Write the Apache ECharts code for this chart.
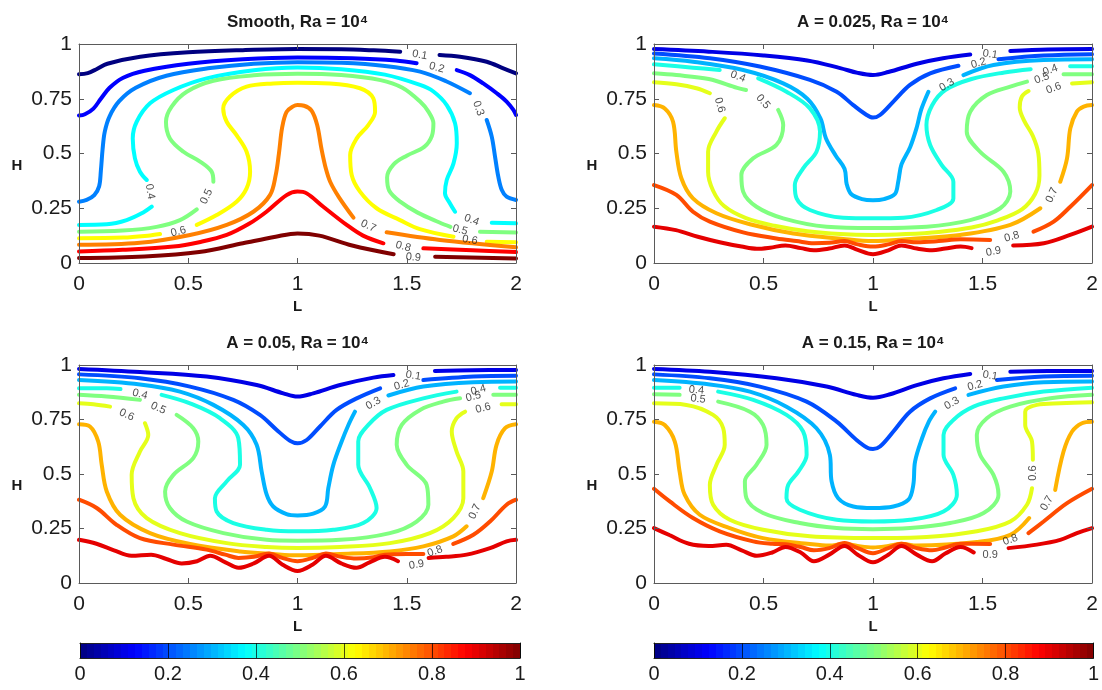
<!DOCTYPE html>
<html>
<head>
<meta charset="utf-8">
<script src="https://cdn.jsdelivr.net/npm/echarts@6/dist/echarts.min.js"></script>
<style>
html, body { margin: 0; padding: 0; background: #fff; }
#chart { width: 1102px; height: 690px; }
</style>
</head>
<body>
<div id="chart"></div>
<script>
// contour levels, same for every panel
const levels = [0.1, 0.2, 0.3, 0.4, 0.5, 0.6, 0.7, 0.8, 0.9];
const xTicks = [0, 0.5, 1, 1.5, 2];
const yTicks = [0, 0.25, 0.5, 0.75, 1];
const cbarTicks = [0, 0.2, 0.4, 0.6, 0.8, 1];

// each contour: list of [L, H] points, null = gap where the inline label sits
const smoothLines = [
  [[0,0.862],[0.04,0.867],[0.08,0.885],[0.13,0.91],[0.28,0.942],[0.5,0.962],[0.75,0.972],[1,0.977],[1.2,0.976],[1.35,0.971],[1.47,0.965],null,[1.65,0.95],[1.744,0.942],[1.866,0.919],[1.942,0.889],[2,0.866]],
  [[0,0.673],[0.027,0.679],[0.066,0.705],[0.1,0.75],[0.14,0.8],[0.2,0.845],[0.3,0.878],[0.5,0.91],[0.75,0.93],[1,0.938],[1.25,0.935],[1.45,0.925],[1.545,0.912],null,[1.729,0.881],[1.789,0.858],[1.85,0.82],[1.912,0.775],[1.957,0.737],[1.988,0.699],[2,0.676]],
  [[0,0.28],[0.035,0.288],[0.07,0.31],[0.092,0.35],[0.1,0.42],[0.108,0.52],[0.118,0.6],[0.14,0.67],[0.185,0.74],[0.26,0.8],[0.4,0.855],[0.6,0.89],[0.8,0.91],[1,0.917],[1.2,0.914],[1.4,0.9],[1.561,0.874],[1.68,0.83],[1.789,0.775],null,[1.866,0.653],[1.889,0.577],[1.904,0.486],[1.919,0.394],[1.935,0.333],[1.957,0.303],[2,0.288]],
  [[0,0.174],[0.127,0.177],[0.218,0.196],[0.294,0.231],[0.333,0.257],null,[0.31,0.379],[0.279,0.417],[0.256,0.478],[0.246,0.569],[0.264,0.645],[0.325,0.729],[0.432,0.79],[0.584,0.843],[0.8,0.88],[1,0.893],[1.2,0.885],[1.4,0.86],[1.561,0.813],[1.622,0.783],[1.683,0.721],[1.721,0.638],[1.729,0.547],[1.714,0.455],[1.683,0.379],[1.675,0.318],[1.698,0.272],[1.721,0.234],null,[1.889,0.184],[2,0.181]],
  [[0,0.143],[0.2,0.148],[0.355,0.165],[0.462,0.196],[0.539,0.245],null,[0.615,0.371],[0.607,0.417],[0.554,0.463],[0.478,0.508],[0.416,0.569],[0.398,0.645],[0.424,0.714],[0.493,0.782],[0.615,0.832],[0.8,0.857],[1,0.864],[1.2,0.858],[1.38,0.835],[1.48,0.8],[1.561,0.737],[1.6,0.69],[1.622,0.638],[1.615,0.58],[1.58,0.53],[1.5,0.49],[1.44,0.45],[1.41,0.39],[1.42,0.33],[1.47,0.28],[1.55,0.23],[1.65,0.185],[1.7,0.165],null,[1.835,0.143],[2,0.139]],
  [[0,0.113],[0.203,0.116],[0.325,0.126],[0.371,0.132],null,[0.539,0.174],[0.63,0.219],[0.721,0.28],[0.767,0.341],[0.783,0.417],[0.767,0.508],[0.721,0.584],[0.676,0.645],[0.66,0.706],[0.691,0.76],[0.767,0.805],[0.889,0.82],[1,0.823],[1.149,0.82],[1.286,0.798],[1.347,0.752],[1.355,0.691],[1.324,0.63],[1.271,0.569],[1.241,0.493],[1.248,0.402],[1.286,0.326],[1.362,0.25],[1.469,0.196],[1.56,0.155],[1.714,0.12],null,[1.866,0.097],[2,0.095]],
  [[0,0.083],[0.279,0.092],[0.508,0.128],[0.676,0.174],[0.798,0.234],[0.874,0.31],[0.9,0.4],[0.915,0.5],[0.93,0.62],[0.95,0.69],[0.98,0.715],[1,0.721],[1.03,0.718],[1.065,0.695],[1.09,0.63],[1.11,0.52],[1.13,0.43],[1.15,0.37],[1.19,0.3],[1.256,0.207],null,[1.408,0.14],[1.652,0.105],[2,0.072]],
  [[0,0.053],[0.2,0.06],[0.432,0.075],[0.55,0.095],[0.676,0.128],[0.78,0.18],[0.858,0.234],[0.95,0.31],[1,0.326],[1.042,0.318],[1.118,0.257],[1.225,0.174],[1.3,0.125],[1.393,0.09],null,[1.576,0.067],[1.8,0.058],[2,0.05]],
  [[0,0.023],[0.3,0.03],[0.55,0.05],[0.75,0.09],[0.9,0.12],[1,0.135],[1.1,0.125],[1.25,0.08],[1.44,0.04],null,[1.63,0.029],[2,0.021]]
];
// [L, H, level, text angle]
const smoothLabels = [
  [1.56,0.95,0.1,-10],[1.637,0.892,0.2,-15],[1.828,0.706,0.3,-70],[0.325,0.326,0.4,-80],[1.797,0.196,0.4,-20],
  [0.584,0.303,0.5,65],[1.744,0.151,0.5,-15],[0.455,0.143,0.6,15],[1.789,0.105,0.6,-10],
  [1.324,0.169,0.7,-25],[1.484,0.075,0.8,-15],[1.53,0.026,0.9,-5]
];

const a025Lines = [
  [[0,0.977],[0.25,0.965],[0.5,0.948],[0.7,0.925],[0.85,0.89],[0.93,0.868],[1,0.858],[1.07,0.872],[1.2,0.91],[1.32,0.935],[1.444,0.952],null,[1.627,0.968],[1.8,0.975],[2,0.977]],
  [[0,0.957],[0.255,0.935],[0.483,0.897],[0.712,0.836],[0.834,0.782],[0.91,0.721],[0.971,0.676],[1,0.664],[1.032,0.676],[1.093,0.737],[1.169,0.813],[1.261,0.866],[1.39,0.901],null,[1.573,0.93],[1.779,0.947],[2,0.953]],
  [[0,0.935],[0.178,0.919],[0.407,0.881],[0.59,0.82],[0.7,0.75],[0.76,0.66],[0.785,0.57],[0.83,0.49],[0.87,0.43],[0.88,0.36],[0.9,0.315],[0.95,0.292],[1,0.287],[1.05,0.292],[1.1,0.315],[1.115,0.37],[1.13,0.45],[1.17,0.53],[1.2,0.62],[1.22,0.7],[1.253,0.782],null,[1.413,0.858],[1.55,0.904],[1.779,0.927],[2,0.93]],
  [[0,0.907],[0.178,0.892],[0.3,0.881],null,[0.476,0.843],[0.605,0.782],[0.712,0.706],[0.758,0.6],[0.742,0.508],[0.681,0.432],[0.643,0.356],[0.651,0.295],[0.712,0.242],[0.864,0.207],[1,0.204],[1.139,0.207],[1.291,0.242],[1.367,0.295],[1.367,0.371],[1.314,0.447],[1.261,0.539],[1.244,0.63],[1.27,0.72],[1.33,0.79],[1.45,0.84],[1.6,0.87],[1.72,0.885],null,[1.9,0.898],[2,0.898]],
  [[0,0.866],[0.102,0.858],[0.25,0.84],[0.38,0.8],[0.42,0.79],null,[0.567,0.699],[0.59,0.63],[0.559,0.539],[0.453,0.478],[0.399,0.402],[0.407,0.326],[0.468,0.257],[0.59,0.204],[0.788,0.166],[1,0.16],[1.245,0.166],[1.444,0.196],[1.581,0.25],[1.627,0.326],[1.596,0.417],[1.489,0.508],[1.428,0.6],[1.444,0.691],[1.52,0.767],[1.627,0.805],[1.703,0.828],null,[1.87,0.862],[2,0.862]],
  [[0,0.825],[0.102,0.816],[0.194,0.798],[0.255,0.775],null,[0.323,0.661],[0.285,0.6],[0.247,0.508],[0.247,0.417],[0.27,0.33],[0.32,0.26],[0.42,0.205],[0.55,0.17],[0.7,0.145],[0.85,0.132],[1,0.128],[1.15,0.132],[1.3,0.142],[1.45,0.162],[1.57,0.195],[1.68,0.245],[1.74,0.315],[1.76,0.4],[1.755,0.5],[1.73,0.58],[1.69,0.65],[1.67,0.71],[1.68,0.76],[1.71,0.785],null,[1.909,0.82],[2,0.825]],
  [[0,0.721],[0.049,0.706],[0.087,0.645],[0.102,0.508],[0.125,0.387],[0.178,0.295],[0.285,0.227],[0.438,0.177],[0.636,0.135],[0.864,0.11],[1,0.1],[1.169,0.11],[1.398,0.128],[1.627,0.174],[1.764,0.25],null,[1.855,0.371],[1.886,0.478],[1.901,0.615],[1.931,0.691],[1.962,0.714],[2,0.721]],
  [[0,0.356],[0.102,0.311],[0.178,0.234],[0.255,0.189],[0.407,0.14],[0.559,0.112],[0.65,0.1],[0.73,0.09],[0.8,0.092],[0.87,0.1],[0.93,0.085],[1,0.075],[1.07,0.085],[1.13,0.1],[1.2,0.095],[1.3,0.1],[1.4,0.108],[1.535,0.105],null,[1.733,0.143],[1.825,0.189],[1.901,0.257],[2,0.356]],
  [[0,0.166],[0.1,0.15],[0.2,0.12],[0.3,0.095],[0.4,0.075],[0.47,0.065],[0.53,0.07],[0.6,0.08],[0.67,0.068],[0.73,0.058],[0.8,0.066],[0.87,0.08],[0.93,0.06],[1,0.04],[1.07,0.058],[1.13,0.08],[1.2,0.066],[1.27,0.058],[1.33,0.066],[1.4,0.075],[1.45,0.068],null,[1.64,0.08],[1.78,0.09],[1.9,0.128],[2,0.166]]
];
const a025Labels = [
  [1.535,0.953,0.1,-8],[1.482,0.912,0.2,15],[1.337,0.813,0.3,30],[0.384,0.851,0.4,-20],[1.81,0.881,0.4,20],
  [0.498,0.737,0.5,-50],[1.771,0.843,0.5,20],[0.3,0.721,0.6,-75],[1.825,0.798,0.6,20],
  [1.817,0.31,0.7,65],[1.634,0.12,0.8,15],[1.55,0.052,0.9,10]
];

const a05Lines = [
  [[0,0.982],[0.279,0.968],[0.584,0.947],[0.813,0.908],[0.935,0.87],[1,0.855],[1.072,0.87],[1.195,0.908],[1.347,0.942],[1.439,0.954],null,[1.629,0.973],[1.8,0.976],[2,0.977]],
  [[0,0.957],[0.279,0.939],[0.508,0.901],[0.706,0.84],[0.828,0.771],[0.905,0.702],[0.966,0.652],[1,0.641],[1.042,0.656],[1.103,0.718],[1.179,0.794],[1.271,0.847],[1.378,0.893],null,[1.576,0.931],[1.805,0.947],[2,0.951]],
  [[0,0.931],[0.279,0.911],[0.462,0.878],[0.615,0.817],[0.752,0.725],[0.813,0.634],[0.836,0.511],[0.859,0.405],[0.889,0.351],[0.95,0.316],[1,0.31],[1.072,0.318],[1.126,0.351],[1.141,0.435],[1.164,0.542],[1.202,0.649],[1.233,0.725],[1.263,0.786],null,[1.416,0.86],[1.576,0.901],[1.805,0.921],[2,0.924]],
  [[0,0.893],[0.127,0.893],[0.19,0.89],null,[0.378,0.863],[0.508,0.824],[0.645,0.756],[0.729,0.664],[0.737,0.542],[0.676,0.466],[0.622,0.389],[0.63,0.328],[0.706,0.275],[0.859,0.244],[1,0.237],[1.164,0.244],[1.301,0.275],[1.362,0.344],[1.332,0.435],[1.278,0.542],[1.278,0.649],[1.324,0.725],[1.408,0.794],[1.576,0.847],[1.728,0.878],null,[1.927,0.896],[2,0.896]],
  [[0,0.863],[0.127,0.855],[0.279,0.84],null,[0.447,0.771],[0.523,0.71],[0.546,0.649],[0.523,0.573],[0.432,0.496],[0.394,0.42],[0.416,0.344],[0.493,0.282],[0.661,0.229],[0.859,0.198],[1,0.194],[1.195,0.198],[1.423,0.229],[1.545,0.282],[1.599,0.359],[1.591,0.45],[1.5,0.542],[1.454,0.634],[1.477,0.725],[1.561,0.794],[1.667,0.832],[1.744,0.847],null,[1.896,0.863],[2,0.863]],
  [[0,0.824],[0.066,0.82],[0.142,0.809],null,[0.302,0.733],[0.317,0.679],[0.279,0.603],[0.241,0.496],[0.249,0.389],[0.31,0.298],[0.462,0.229],[0.676,0.183],[0.859,0.165],[1,0.16],[1.195,0.165],[1.423,0.183],[1.606,0.229],[1.713,0.298],[1.759,0.389],[1.759,0.511],[1.728,0.603],[1.706,0.695],[1.728,0.756],[1.767,0.786],null,[1.934,0.82],[2,0.82]],
  [[0,0.728],[0.05,0.718],[0.088,0.649],[0.104,0.542],[0.127,0.42],[0.188,0.313],[0.325,0.229],[0.508,0.179],[0.737,0.145],[0.889,0.133],[1,0.127],[1.195,0.133],[1.423,0.145],[1.576,0.168],[1.713,0.214],[1.774,0.26],null,[1.85,0.389],[1.889,0.511],[1.911,0.634],[1.95,0.71],[2,0.728]],
  [[0,0.382],[0.081,0.344],[0.172,0.267],[0.279,0.206],[0.432,0.176],[0.584,0.153],[0.67,0.13],[0.73,0.115],[0.8,0.12],[0.87,0.135],[0.93,0.115],[1,0.1],[1.07,0.115],[1.13,0.135],[1.2,0.12],[1.27,0.112],[1.347,0.118],[1.4,0.13],[1.5,0.133],[1.576,0.133],null,[1.713,0.179],[1.805,0.221],[1.881,0.282],[1.957,0.359],[2,0.382]],
  [[0,0.198],[0.08,0.18],[0.16,0.15],[0.24,0.125],[0.33,0.13],[0.4,0.11],[0.47,0.09],[0.54,0.1],[0.6,0.125],[0.67,0.095],[0.73,0.07],[0.8,0.09],[0.87,0.125],[0.93,0.085],[1,0.055],[1.07,0.085],[1.13,0.125],[1.2,0.09],[1.27,0.07],[1.33,0.095],[1.4,0.12],[1.46,0.1],null,[1.6,0.115],[1.68,0.12],[1.774,0.13],[1.881,0.16],[1.957,0.191],[2,0.198]]
];
const a05Labels = [
  [1.53,0.951,0.1,-8],[1.477,0.908,0.2,15],[1.347,0.824,0.3,30],[0.279,0.866,0.4,-15],[1.828,0.885,0.4,15],
  [0.363,0.802,0.5,-25],[1.805,0.855,0.5,15],[0.218,0.771,0.6,-25],[1.85,0.802,0.6,15],
  [1.812,0.328,0.7,65],[1.629,0.145,0.8,20],[1.545,0.084,0.9,10]
];

const a15Lines = [
  [[0,0.982],[0.255,0.969],[0.559,0.939],[0.788,0.901],[0.925,0.863],[1,0.85],[1.078,0.866],[1.2,0.908],[1.322,0.939],[1.444,0.959],null,[1.627,0.969],[1.8,0.973],[2,0.973]],
  [[0,0.957],[0.255,0.939],[0.483,0.901],[0.697,0.832],[0.834,0.74],[0.925,0.656],[0.979,0.618],[1,0.615],[1.032,0.626],[1.093,0.695],[1.169,0.786],[1.261,0.847],[1.375,0.893],null,[1.566,0.931],[1.779,0.947],[2,0.951]],
  [[0,0.931],[0.255,0.911],[0.438,0.878],[0.605,0.809],[0.742,0.71],[0.803,0.588],[0.811,0.466],[0.841,0.389],[0.91,0.351],[1,0.344],[1.093,0.351],[1.162,0.382],[1.184,0.45],[1.192,0.557],[1.224,0.664],[1.255,0.74],[1.284,0.786],null,[1.436,0.863],[1.596,0.901],[1.779,0.921],[2,0.924]],
  [[0,0.896],[0.117,0.896],null,[0.293,0.878],[0.453,0.84],[0.605,0.771],[0.681,0.695],[0.697,0.588],[0.659,0.511],[0.613,0.45],[0.605,0.389],[0.666,0.336],[0.834,0.29],[1,0.282],[1.169,0.29],[1.322,0.328],[1.383,0.405],[1.367,0.496],[1.322,0.588],[1.322,0.679],[1.367,0.748],[1.459,0.809],[1.596,0.847],[1.779,0.878],[2,0.896]],
  [[0,0.866],[0.117,0.863],null,[0.293,0.832],[0.438,0.786],[0.498,0.725],[0.514,0.634],[0.468,0.542],[0.415,0.466],[0.422,0.389],[0.498,0.321],[0.666,0.275],[0.834,0.252],[1,0.247],[1.169,0.252],[1.352,0.275],[1.505,0.321],[1.573,0.405],[1.55,0.496],[1.489,0.588],[1.474,0.679],[1.52,0.756],[1.627,0.809],[1.81,0.847],[2,0.863]],
  [[0,0.824],[0.148,0.817],[0.27,0.771],[0.316,0.71],[0.323,0.634],[0.285,0.542],[0.255,0.45],[0.27,0.359],[0.346,0.29],[0.498,0.244],[0.712,0.214],[1,0.206],[1.245,0.211],[1.474,0.237],[1.627,0.282],[1.703,0.359],[1.726,0.435],null,[1.73,0.565],[1.726,0.649],[1.695,0.725],[1.695,0.786],[1.748,0.817],[1.855,0.824],[2,0.829]],
  [[0,0.74],[0.049,0.725],[0.095,0.649],[0.117,0.511],[0.14,0.405],[0.209,0.313],[0.346,0.252],[0.498,0.206],[0.712,0.179],[0.8,0.172],[0.87,0.18],[0.93,0.17],[1,0.163],[1.07,0.17],[1.13,0.18],[1.2,0.172],[1.474,0.188],[1.627,0.221],[1.713,0.298],null,[1.832,0.427],[1.87,0.603],[1.909,0.695],[1.954,0.733],[2,0.74]],
  [[0,0.432],[0.072,0.374],[0.178,0.298],[0.3,0.237],[0.453,0.191],[0.54,0.18],[0.6,0.178],[0.67,0.165],[0.73,0.15],[0.8,0.16],[0.87,0.183],[0.93,0.16],[1,0.137],[1.07,0.16],[1.13,0.18],[1.2,0.16],[1.27,0.15],[1.33,0.163],[1.4,0.18],[1.535,0.179],null,[1.71,0.229],[1.779,0.282],[1.886,0.366],[2,0.432]],
  [[0,0.252],[0.07,0.22],[0.16,0.18],[0.25,0.17],[0.33,0.175],[0.4,0.15],[0.47,0.125],[0.54,0.14],[0.6,0.165],[0.67,0.14],[0.73,0.1],[0.8,0.13],[0.87,0.17],[0.93,0.13],[1,0.095],[1.07,0.13],[1.13,0.17],[1.2,0.13],[1.27,0.1],[1.33,0.135],[1.4,0.165],[1.46,0.14],null,[1.619,0.16],[1.748,0.176],[1.855,0.198],[1.931,0.229],[2,0.252]]
];
const a15Labels = [
  [1.535,0.951,0.1,-8],[1.466,0.905,0.2,15],[1.36,0.824,0.3,30],[0.194,0.885,0.4,-5],[0.201,0.844,0.5,-5],
  [1.73,0.504,0.6,90],[1.794,0.366,0.7,60],[1.627,0.198,0.8,20],[1.535,0.127,0.9,0]
];

const titles = ['Smooth, Ra = 10\u2074', 'A = 0.025, Ra = 10\u2074', 'A = 0.05, Ra = 10\u2074', 'A = 0.15, Ra = 10\u2074'];
const panelLines = [smoothLines, a025Lines, a05Lines, a15Lines];
const panelLabels = [smoothLabels, a025Labels, a05Labels, a15Labels];
// colour range used by each panel's contour colouring
const colorRanges = [[0.1, 0.9], [0, 1], [0, 1], [0, 1]];
const cbarSteps = 64;

const FONT = '"Liberation Sans", Arial, sans-serif';
const FRAME = '#5a5a5a';

function jet(t) {
  const c = v => Math.round(255 * Math.max(0, Math.min(1, 1.5 - Math.abs(v))));
  return 'rgb(' + c(4 * t - 3) + ',' + c(4 * t - 2) + ',' + c(4 * t - 1) + ')';
}

const boxes = [
  { left: 79, top: 44, width: 437, height: 219 },
  { left: 654, top: 44, width: 438, height: 219 },
  { left: 79, top: 365, width: 437, height: 218 },
  { left: 654, top: 365, width: 438, height: 218 }
];
const cbarBoxes = [
  { left: 80, top: 643, width: 440, height: 15 },
  { left: 654, top: 643, width: 441, height: 15 }
];

const option = {
  animation: false,
  backgroundColor: '#ffffff',
  title: [], grid: [], xAxis: [], yAxis: [], series: [], graphic: []
};

function frameAxis(kind, gi, pos, showLabel, ticks) {
  return {
    gridIndex: gi, type: 'value', position: pos, z: 5,
    min: ticks[0], max: ticks[ticks.length - 1], interval: ticks[1] - ticks[0],
    axisLine: { show: true, onZero: false, lineStyle: { color: FRAME, width: 1 } },
    axisTick: { show: true, inside: true, length: 5, lineStyle: { color: FRAME } },
    axisLabel: { show: showLabel, fontSize: 21, color: '#1a1a1a', fontFamily: FONT, margin: kind === 'x' ? 11 : 7 },
    splitLine: { show: false }
  };
}

boxes.forEach((b, i) => {
  option.grid.push(Object.assign({ show: false }, b));
  option.xAxis.push(frameAxis('x', i, 'bottom', true, xTicks));
  option.xAxis.push(frameAxis('x', i, 'top', false, xTicks));
  option.yAxis.push(frameAxis('y', i, 'left', true, yTicks));
  option.yAxis.push(frameAxis('y', i, 'right', false, yTicks));

  option.title.push({
    text: titles[i], left: b.left + b.width / 2, top: b.top - 30, textAlign: 'center', padding: 0,
    textStyle: { fontSize: 17, fontWeight: 'bold', color: '#1a1a1a', fontFamily: FONT }
  });
  option.graphic.push({
    type: 'text', x: b.left - 62, y: b.top + b.height / 2 + 12, z: 10,
    style: { text: 'H', font: 'bold 15px ' + FONT, fill: '#1a1a1a', align: 'center', verticalAlign: 'middle' }
  });
  option.graphic.push({
    type: 'text', x: b.left + b.width / 2, y: b.top + b.height + 44, z: 10,
    style: { text: 'L', font: 'bold 15px ' + FONT, fill: '#1a1a1a', align: 'center', verticalAlign: 'middle' }
  });

  const [lo, hi] = colorRanges[i];
  panelLines[i].forEach((pts, k) => {
    option.series.push({
      type: 'line', xAxisIndex: 2 * i, yAxisIndex: 2 * i,
      data: pts.map(p => (p ? p : ['-', '-'])),
      connectNulls: false, showSymbol: false, symbol: 'none', smooth: 0.35,
      silent: true, z: 2,
      lineStyle: { width: 4, color: jet((levels[k] - lo) / (hi - lo)), cap: 'round' }
    });
  });
  option.series.push({
    type: 'scatter', xAxisIndex: 2 * i, yAxisIndex: 2 * i, symbolSize: 0, silent: true, z: 4,
    data: panelLabels[i].map(d => ({ value: [d[0], d[1], d[2]], label: { rotate: d[3] } })),
    label: {
      show: true, position: 'inside', fontSize: 11, color: '#222', fontFamily: FONT,
      formatter: p => p.value[2].toFixed(1)
    }
  });
});

// colour bars under the bottom row: one bar filled with the stepped jet map
const cbarStops = [];
for (let j = 0; j < cbarSteps; j++) {
  const col = jet((j + 0.5) / cbarSteps);
  cbarStops.push({ offset: j / cbarSteps, color: col }, { offset: (j + 1) / cbarSteps, color: col });
}
cbarBoxes.forEach((b, c) => {
  const gi = 4 + c;
  option.grid.push(Object.assign({ show: false }, b));
  option.xAxis.push({ gridIndex: gi, type: 'category', show: false, data: ['cbar'] });
  option.xAxis.push({
    gridIndex: gi, type: 'value', position: 'bottom', z: 5,
    min: 0, max: 1, interval: cbarTicks[1] - cbarTicks[0],
    axisLine: { show: true, onZero: false, lineStyle: { color: '#222' } },
    axisTick: { show: true, inside: true, length: b.height, lineStyle: { color: 'rgba(0,0,0,0.7)' } },
    axisLabel: { fontSize: 20, color: '#1a1a1a', fontFamily: FONT, margin: 6 },
    splitLine: { show: false }
  });
  option.xAxis.push({
    gridIndex: gi, type: 'value', position: 'top', z: 5, min: 0, max: 1,
    axisLine: { show: true, onZero: false, lineStyle: { color: '#222' } },
    axisTick: { show: false }, axisLabel: { show: false }, splitLine: { show: false }
  });
  option.yAxis.push({
    gridIndex: gi, type: 'value', min: 0, max: 1, position: 'left', z: 5,
    axisLine: { show: true, onZero: false, lineStyle: { color: '#222' } },
    axisTick: { show: false }, axisLabel: { show: false }, splitLine: { show: false }
  });
  option.yAxis.push({
    gridIndex: gi, type: 'value', min: 0, max: 1, position: 'right', z: 5,
    axisLine: { show: true, onZero: false, lineStyle: { color: '#222' } },
    axisTick: { show: false }, axisLabel: { show: false }, splitLine: { show: false }
  });
  option.series.push({
    type: 'bar', xAxisIndex: 8 + 3 * c, yAxisIndex: 8 + 2 * c, silent: true, z: 1,
    barWidth: '100%',
    data: [{
      value: 1,
      itemStyle: { color: { type: 'linear', x: 0, y: 0, x2: 1, y2: 0, colorStops: cbarStops } }
    }]
  });
});

const chart = echarts.init(document.getElementById('chart'));
chart.setOption(option);
</script>
</body>
</html>
